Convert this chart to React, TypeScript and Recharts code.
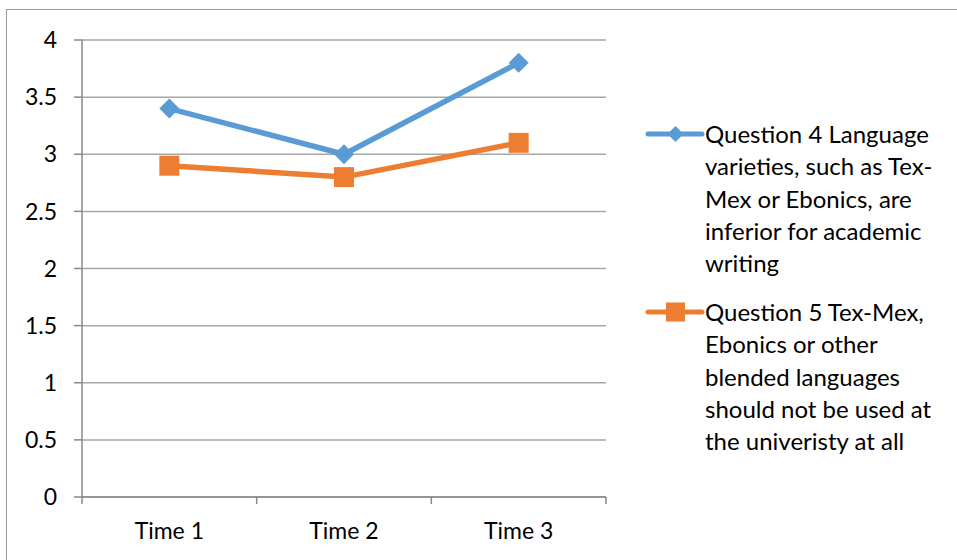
import React from 'react';
import {
  LineChart,
  Line,
  XAxis,
  YAxis,
  CartesianGrid,
} from 'recharts';

const times = ['Time 1', 'Time 2', 'Time 3'];
const question4 = [3.4, 3.0, 3.8];
const question5 = [2.9, 2.8, 3.1];
const yTicks = [0, 0.5, 1, 1.5, 2, 2.5, 3, 3.5, 4];

const legendQ4 = [
  'Question 4 Language',
  'varieties, such as Tex-',
  'Mex or Ebonics, are',
  'inferior for academic',
  'writing',
];
const legendQ5 = [
  'Question 5 Tex-Mex,',
  'Ebonics or other',
  'blended languages',
  'should not be used at',
  'the univeristy at all',
];

const BLUE = '#5b9bd5';
const ORANGE = '#ed7d31';
const AXIS = '#898989';
const GRID = '#a6a6a6';
const FONT = 'Lato, "Open Sans", sans-serif';
const LINE_H = 32.3;

// categories sit in the middle of each band, band edges get the tick marks
const data = times.map((t, i) => ({ x: i + 0.5, label: t, q4: question4[i], q5: question5[i] }));
const xTicks = [0, 0.5, 1, 1.5, 2, 2.5, 3];

const XTick = (props: any) => {
  const { x, y, payload } = props;
  const v = payload.value as number;
  if (Number.isInteger(v)) {
    return <line x1={x} y1={y} x2={x} y2={y + 7} stroke={AXIS} strokeWidth={1.5} />;
  }
  const idx = Math.floor(v);
  return (
    <text x={x} y={y + 26} dy="0.71em" textAnchor="middle" fill="#000" fontSize={23} fontFamily={FONT}>
      {times[idx]}
    </text>
  );
};

const Diamond = (props: any) => {
  const { cx, cy } = props;
  if (cx == null || cy == null) return null;
  const r = 10;
  return (
    <path
      d={`M${cx},${cy - r}L${cx + r},${cy}L${cx},${cy + r}L${cx - r},${cy}Z`}
      fill={BLUE}
    />
  );
};

const Square = (props: any) => {
  const { cx, cy } = props;
  if (cx == null || cy == null) return null;
  const h = 10;
  return <rect x={cx - h} y={cy - h} width={h * 2} height={h * 2} fill={ORANGE} />;
};

const LegendItem = ({ color, lines, square }: { color: string; lines: string[]; square?: boolean }) => (
  <div style={{ position: 'relative', paddingLeft: 60 }}>
    <svg width={60} height={32} style={{ position: 'absolute', left: 0, top: 0 }}>
      <line x1={3} y1={16} x2={57} y2={16} stroke={color} strokeWidth={5} strokeLinecap="round" />
      {square ? (
        <rect x={21} y={6.5} width={19} height={19} fill={color} />
      ) : (
        <path d="M30.5,8L38.5,16L30.5,24L22.5,16Z" fill={color} />
      )}
    </svg>
    {lines.map((l) => (
      <div key={l} style={{ height: LINE_H, lineHeight: `${LINE_H}px`, whiteSpace: 'nowrap' }}>
        {l}
      </div>
    ))}
  </div>
);

export default function App() {
  return (
    <div
      style={{
        position: 'absolute',
        left: 0,
        top: 0,
        width: 957,
        height: 560,
        overflow: 'hidden',
        background: '#fff',
        fontFamily: FONT,
      }}
    >
      <div
        style={{
          position: 'absolute',
          left: 6,
          top: 9,
          width: 1000,
          height: 600,
          border: '1.5px solid #9a9a9a',
        }}
      />
      <LineChart
        width={957}
        height={560}
        data={data}
        margin={{ top: 40, right: 351, bottom: 0, left: 0 }}
        style={{ position: 'absolute', left: 0, top: 0 }}
      >
        <CartesianGrid vertical={false} stroke={GRID} strokeWidth={1.5} />
        <XAxis
          dataKey="x"
          type="number"
          domain={[0, 3]}
          ticks={xTicks}
          interval={0}
          tickSize={0}
          tickMargin={0}
          tickLine={false}
          tick={<XTick />}
          axisLine={{ stroke: AXIS, strokeWidth: 1.5 }}
          height={63}
        />
        <YAxis
          type="number"
          domain={[0, 4]}
          ticks={yTicks}
          interval={0}
          width={82}
          tickSize={8}
          tickMargin={17}
          tickLine={{ stroke: AXIS, strokeWidth: 1.5 }}
          axisLine={{ stroke: AXIS, strokeWidth: 1.5 }}
          tick={{ fill: '#000', fontSize: 23, fontFamily: FONT }}
        />
        <Line
          dataKey="q4"
          stroke={BLUE}
          strokeWidth={5.5}
          dot={<Diamond />}
          activeDot={false}
          isAnimationActive={false}
        />
        <Line
          dataKey="q5"
          stroke={ORANGE}
          strokeWidth={5.5}
          dot={<Square />}
          activeDot={false}
          isAnimationActive={false}
        />
      </LineChart>
      <div style={{ position: 'absolute', left: 645, top: 118, fontSize: 24, color: '#000' }}>
        <LegendItem color={BLUE} lines={legendQ4} />
        <div style={{ height: 16.5 }} />
        <LegendItem color={ORANGE} lines={legendQ5} square />
      </div>
    </div>
  );
}
